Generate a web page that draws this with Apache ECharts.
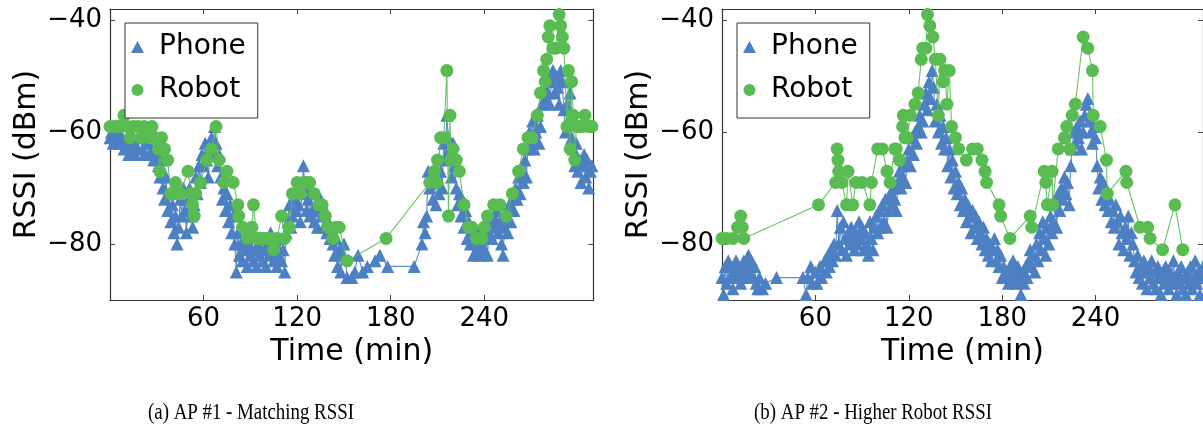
<!DOCTYPE html>
<html><head><meta charset="utf-8">
<script src="https://cdn.jsdelivr.net/npm/echarts@6/dist/echarts.min.js"></script>
<style>html,body{margin:0;padding:0;background:#fff}#c{width:1203px;height:436px}</style>
</head><body><div id="c"></div>
<script>
// ---- data (time in min, RSSI in dBm) ----
const xTicks = [60, 120, 180, 240];
const yTicks = [-80, -60, -40];
const seriesNames = ['Phone', 'Robot'];
const captions = ['(a) AP #1 - Matching RSSI', '(b) AP #2 - Higher Robot RSSI'];

const phoneA = [[0,-61],[1,-60],[2,-62],[3,-61],[5,-60],[6,-62],[8,-61],[9,-63],[11,-62],[12,-64],[13,-63],[15,-62],[16,-64],[18,-63],[19,-61],[21,-63],[22,-64],[24,-62],[25,-64],[27,-63],[28,-65],[30,-64],[31,-66],[32,-68],[33,-65],[34,-70],[35,-72],[36,-68],[37,-74],[38,-71],[39,-76],[40,-73],[41,-78],[42,-75],[43,-80],[44,-77],[45,-72],[46,-75],[47,-70],[48,-74],[49,-78],[50,-72],[51,-70],[52,-75],[53,-77],[54,-73],[55,-68],[56,-71],[57,-66],[58,-69],[59,-64],[60,-66],[61,-62],[62,-65],[63,-68],[64,-63],[65,-61],[66,-64],[67,-59],[68,-62],[69,-66],[70,-64],[71,-68],[72,-72],[73,-70],[74,-74],[75,-71],[76,-76],[77,-73],[78,-78],[79,-75],[80,-80],[81,-85],[82,-78],[83,-82],[84,-80],[85,-83],[86,-79],[87,-81],[88,-84],[89,-80],[90,-82],[91,-78],[92,-83],[93,-81],[94,-84],[95,-80],[96,-82],[97,-79],[98,-83],[99,-81],[100,-84],[101,-80],[102,-82],[103,-78],[104,-81],[105,-83],[106,-80],[107,-84],[108,-82],[109,-79],[110,-83],[111,-81],[112,-85],[113,-78],[114,-76],[115,-73],[116,-77],[117,-75],[118,-72],[119,-74],[120,-70],[121,-73],[122,-76],[123,-71],[124,-66],[125,-70],[126,-74],[127,-72],[128,-75],[129,-71],[130,-74],[131,-76],[132,-73],[133,-77],[134,-74],[135,-72],[136,-75],[137,-77],[138,-74],[139,-78],[140,-76],[141,-79],[142,-77],[143,-80],[144,-82],[145,-79],[146,-84],[147,-81],[148,-85],[149,-82],[150,-80],[152,-86],[155,-86],[157,-85],[159,-82],[162,-85],[165,-84],[170,-83],[173,-82],[178,-84],[195,-84],[200,-80],[201,-76],[202,-78],[203,-75],[204,-67],[205,-70],[206,-68],[207,-72],[208,-69],[209,-73],[210,-68],[211,-71],[212,-67],[213,-70],[214,-62],[215,-65],[216,-57],[217,-61],[218,-63],[219,-68],[220,-62],[221,-66],[222,-70],[223,-73],[224,-71],[225,-75],[226,-72],[227,-77],[228,-74],[229,-79],[230,-76],[231,-80],[232,-78],[233,-82],[234,-79],[235,-81],[236,-78],[237,-82],[238,-80],[239,-77],[240,-81],[241,-79],[242,-82],[243,-78],[244,-76],[245,-79],[246,-75],[247,-77],[248,-74],[249,-78],[250,-76],[251,-80],[252,-82],[253,-77],[254,-75],[255,-78],[256,-73],[257,-76],[258,-72],[259,-74],[260,-70],[261,-72],[262,-68],[263,-71],[264,-67],[265,-69],[266,-65],[267,-68],[268,-63],[269,-60],[270,-62],[271,-58],[272,-63],[273,-60],[274,-57],[275,-62],[276,-59],[277,-55],[278,-52],[279,-54],[280,-50],[281,-53],[282,-55],[283,-51],[284,-49],[285,-53],[286,-50],[287,-52],[288,-55],[289,-49],[290,-51],[291,-56],[292,-60],[293,-55],[294,-58],[295,-53],[296,-61],[297,-63],[298,-66],[299,-62],[300,-67],[301,-65],[302,-69],[303,-66],[304,-64],[305,-68],[306,-65],[307,-70],[308,-67],[309,-66]];

const robotA = [[0,-59],[3,-59],[5,-59],[7,-59],[9,-57],[11,-59],[13,-61],[15,-59],[18,-59],[20,-61],[22,-59],[25,-61],[27,-59],[29,-61],[31,-63],[32,-67],[33,-61],[35,-63],[37,-65],[39,-71],[42,-69],[43,-71],[45,-71],[50,-67],[52,-71],[53,-73],[54,-75],[55,-71],[58,-69],[62,-65],[65,-63],[68,-59],[70,-65],[73,-69],[75,-67],[79,-69],[82,-73],[82.5,-75],[85,-77],[88,-79],[91,-77],[92,-73],[94,-79],[96,-79],[98,-79],[100,-79],[103,-79],[105,-81],[107,-79],[110,-75],[112,-79],[115,-77],[117,-71],[120,-69],[122,-71],[124,-69],[126,-69],[128,-69],[131,-71],[134,-73],[136,-73],[138,-75],[140,-77],[143,-79],[145,-77],[147,-77],[152,-83],[177,-79],[205,-69],[208,-67],[210,-65],[209.6,-69],[212,-61],[214,-61],[216,-49],[217,-75],[218,-57],[218.5,-65],[220,-63],[222,-65],[224,-67],[227,-73],[230,-77],[232,-77],[235,-79],[238.5,-79],[240,-77],[242,-75],[246,-73],[250,-73],[254,-75],[258,-71],[262,-67],[265,-63],[268,-61],[270.5,-61],[274,-57],[276,-53],[278,-49],[279,-51],[280,-47],[281,-43],[282,-41],[284,-45],[286,-45],[288,-39],[289,-41],[290,-43],[291,-45],[293,-59],[294,-49],[295,-63],[296,-51],[297,-57],[298,-65],[299,-59],[301,-59],[303,-59],[304.5,-57],[307,-59],[309,-59]];

const phoneB = [[0,-86],[1,-89],[2,-84],[3,-87],[4,-83],[5,-86],[6,-84],[7,-88],[8,-85],[9,-83],[10,-86],[11,-84],[12,-87],[13,-85],[14,-83],[15,-86],[16,-84],[17,-82],[18,-85],[19,-83],[20,-86],[21,-84],[22,-87],[23,-88],[24,-86],[26,-88],[28,-87],[35,-86],[52,-86],[54,-89],[55,-86],[57,-84],[58,-87],[60,-85],[61,-87],[63,-84],[64,-86],[66,-83],[67,-85],[68,-82],[69,-84],[70,-81],[71,-83],[72,-80],[73,-82],[74,-74],[75,-80],[76,-77],[77,-81],[78,-76],[79,-79],[80,-82],[81,-78],[82,-80],[83,-77],[84,-79],[85,-81],[86,-78],[87,-80],[88,-76],[89,-79],[90,-77],[91,-81],[92,-78],[93,-80],[94,-82],[95,-76],[96,-79],[97,-81],[98,-77],[99,-75],[100,-78],[101,-74],[102,-77],[103,-73],[104,-76],[105,-72],[106,-77],[107,-74],[108,-71],[109,-73],[110,-70],[111,-72],[112,-74],[113,-69],[114,-67],[115,-70],[116,-68],[117,-66],[118,-69],[119,-65],[120,-63],[121,-66],[122,-61],[123,-64],[124,-60],[125,-62],[126,-59],[127,-57],[128,-60],[129,-58],[130,-55],[131,-53],[132,-56],[133,-51],[134,-54],[135,-49],[136,-52],[137,-58],[138,-55],[139,-60],[140,-57],[141,-62],[142,-59],[143,-63],[144,-61],[145,-66],[146,-63],[147,-68],[148,-65],[149,-70],[150,-67],[151,-71],[152,-69],[153,-73],[154,-70],[155,-74],[156,-72],[157,-76],[158,-73],[159,-75],[160,-78],[161,-74],[162,-77],[163,-75],[164,-79],[165,-76],[166,-78],[167,-80],[168,-77],[169,-81],[170,-79],[171,-82],[172,-80],[173,-83],[174,-81],[175,-79],[176,-83],[177,-81],[178,-84],[179,-82],[180,-86],[181,-84],[182,-86],[183,-85],[184,-87],[185,-84],[186,-86],[187,-83],[188,-85],[189,-87],[190,-84],[191,-86],[192,-89],[193,-85],[194,-87],[195,-84],[196,-86],[197,-83],[198,-81],[199,-84],[200,-82],[201,-85],[202,-80],[203,-83],[204,-78],[205,-81],[206,-76],[207,-79],[208,-82],[209,-77],[210,-80],[211,-75],[212,-78],[213,-76],[214,-73],[215,-77],[216,-71],[217,-74],[218,-70],[219,-72],[220,-68],[221,-71],[222,-69],[223,-73],[224,-66],[225,-63],[226,-60],[227,-62],[228,-59],[229,-61],[230,-58],[231,-63],[232,-60],[233,-57],[234,-55],[235,-54],[236,-58],[237,-60],[238,-62],[239,-59],[240,-61],[241,-66],[242,-70],[243,-68],[244,-72],[245,-69],[246,-73],[247,-71],[248,-74],[249,-72],[250,-76],[251,-74],[252,-77],[253,-73],[254,-76],[255,-80],[256,-75],[257,-78],[258,-81],[259,-77],[260,-79],[261,-75],[262,-82],[263,-78],[264,-80],[265,-83],[266,-85],[267,-82],[268,-86],[269,-84],[270,-87],[271,-83],[272,-85],[273,-88],[274,-84],[275,-86],[276,-83],[277,-87],[278,-85],[279,-88],[280,-84],[281,-86],[282,-89],[283,-85],[284,-87],[285,-84],[286,-86],[287,-88],[288,-85],[289,-87],[290,-83],[291,-86],[292,-89],[293,-85],[294,-87],[295,-84],[296,-88],[297,-86],[298,-89],[299,-85],[300,-87],[301,-84],[302,-88],[303,-86],[304,-83],[305,-87],[306,-85],[307,-89],[308,-86],[309,-84]];

const robotB = [[0,-79],[3,-79],[7,-79],[10,-77],[12,-75],[13,-77],[14,-79],[62,-73],[73,-69],[74,-63],[74.5,-65],[75,-67],[77,-69],[80,-73],[81,-67],[84,-73],[86,-69],[90,-69],[95,-73],[96,-69],[100,-63],[103,-63],[106,-67],[108,-69],[111,-63],[112,-63],[114,-65],[116,-59],[116.5,-57],[117.5,-61],[119,-61],[121,-57],[124,-55],[126,-53],[128,-47],[129,-45],[131,-45],[132,-39],[133.5,-41],[135.5,-43],[137,-47],[139,-57],[140,-47],[142,-51],[143,-49],[144.5,-55],[146,-49],[147.5,-59],[150,-61],[152,-63],[157,-65],[161,-63],[164,-63],[167,-65],[169,-67],[170,-69],[178,-73],[179,-75],[185,-79],[198,-75],[199,-77],[207,-67],[208,-69],[209,-73],[212,-67],[212.5,-73],[216,-63],[220,-61],[221.5,-59],[223.5,-63],[225,-57],[227,-55],[232,-43],[235,-45],[238,-49],[238.5,-57],[243,-59],[247,-65],[247.5,-71],[259.5,-67],[260,-69],[268.5,-77],[273.5,-77],[275,-79],[283,-81],[291,-73],[296,-81]];

// ---- styling ----
const BLUE = '#4D7FC3';
const GREEN = '#58BC52';
const FONT = 'DejaVu Sans';
const FRAME = '#333';

const grids = [
  {left: 110, top: 9, width: 483.5, height: 291},
  {left: 722, top: 9, width: 481, height: 291}
];
const xMax = [310, 309];

function xAxis(gi, pos) {
  const main = pos === 'bottom';
  return {
    gridIndex: gi, type: 'value', min: 0, max: xMax[gi], position: pos,
    axisLine: {show: true, onZero: false, lineStyle: {color: FRAME, width: 1.2}},
    axisTick: {show: true, inside: true, length: 5, customValues: xTicks, lineStyle: {color: '#444'}},
    axisLabel: {show: main, customValues: xTicks, fontSize: 26, fontFamily: FONT, color: '#000', margin: 6},
    splitLine: {show: false},
    name: main ? 'Time (min)' : '', nameLocation: 'middle', nameGap: 35,
    nameTextStyle: {fontSize: 30, fontFamily: FONT, color: '#000'}
  };
}
function yAxis(gi, pos) {
  const main = pos === 'left';
  return {
    gridIndex: gi, type: 'value', min: -90, max: -38, position: pos,
    axisLine: {show: true, onZero: false, lineStyle: {color: FRAME, width: 1.2}},
    axisTick: {show: true, inside: true, length: 5, customValues: yTicks, lineStyle: {color: '#444'}},
    axisLabel: {show: main, customValues: yTicks, fontSize: 26, fontFamily: FONT, color: '#000', margin: 8,
      formatter: v => (v < 0 ? '\u2212' : '') + Math.abs(v)},
    splitLine: {show: false},
    name: main ? 'RSSI (dBm)' : '', nameLocation: 'middle', nameGap: 68, nameRotate: 90,
    nameTextStyle: {fontSize: 30, fontFamily: FONT, color: '#000'}
  };
}
function legend(left) {
  return {
    left: left, top: 23, orient: 'vertical',
    data: [{name: seriesNames[0], icon: 'triangle'}, {name: seriesNames[1], icon: 'circle'}],
    itemWidth: 13, itemHeight: 12, itemGap: 15,
    padding: [10, 12, 14, 6],
    borderColor: FRAME, borderWidth: 1, backgroundColor: '#fff', borderRadius: 0,
    textStyle: {fontSize: 28, fontFamily: FONT, color: '#000', padding: [0, 0, 0, 10]},
    selectedMode: false
  };
}
function series(name, data, gi, sym, color, z) {
  return {
    type: 'line', name: name, data: data, xAxisIndex: gi * 2, yAxisIndex: gi * 2,
    symbol: sym, symbolSize: 13, showSymbol: true, showAllSymbol: true,
    itemStyle: {color: color, opacity: 1}, lineStyle: {color: color, width: 1.1, opacity: 0.9},
    z: z, animation: false, clip: true, emphasis: {disabled: true}
  };
}

const chart = echarts.init(document.getElementById('c'), null, {renderer: 'canvas'});
chart.setOption({
  animation: false,
  backgroundColor: '#fff',
  grid: grids,
  xAxis: [xAxis(0, 'bottom'), xAxis(0, 'top'), xAxis(1, 'bottom'), xAxis(1, 'top')],
  yAxis: [yAxis(0, 'left'), yAxis(0, 'right'), yAxis(1, 'left'), yAxis(1, 'right')],
  legend: [legend(125), legend(737)],
  series: [
    series(seriesNames[0], phoneA, 0, 'triangle', BLUE, 2),
    series(seriesNames[1], robotA, 0, 'circle', GREEN, 3),
    series(seriesNames[0], phoneB, 1, 'triangle', BLUE, 2),
    series(seriesNames[1], robotB, 1, 'circle', GREEN, 3)
  ],
  graphic: [
    {type: 'text', x: 251, y: 413, scaleX: 0.82,
      style: {text: captions[0], font: '23px "Liberation Serif"', fill: '#000', textAlign: 'center', textVerticalAlign: 'middle'}},
    {type: 'text', x: 873, y: 413, scaleX: 0.82,
      style: {text: captions[1], font: '23px "Liberation Serif"', fill: '#000', textAlign: 'center', textVerticalAlign: 'middle'}}
  ]
});
</script>
</body></html>
